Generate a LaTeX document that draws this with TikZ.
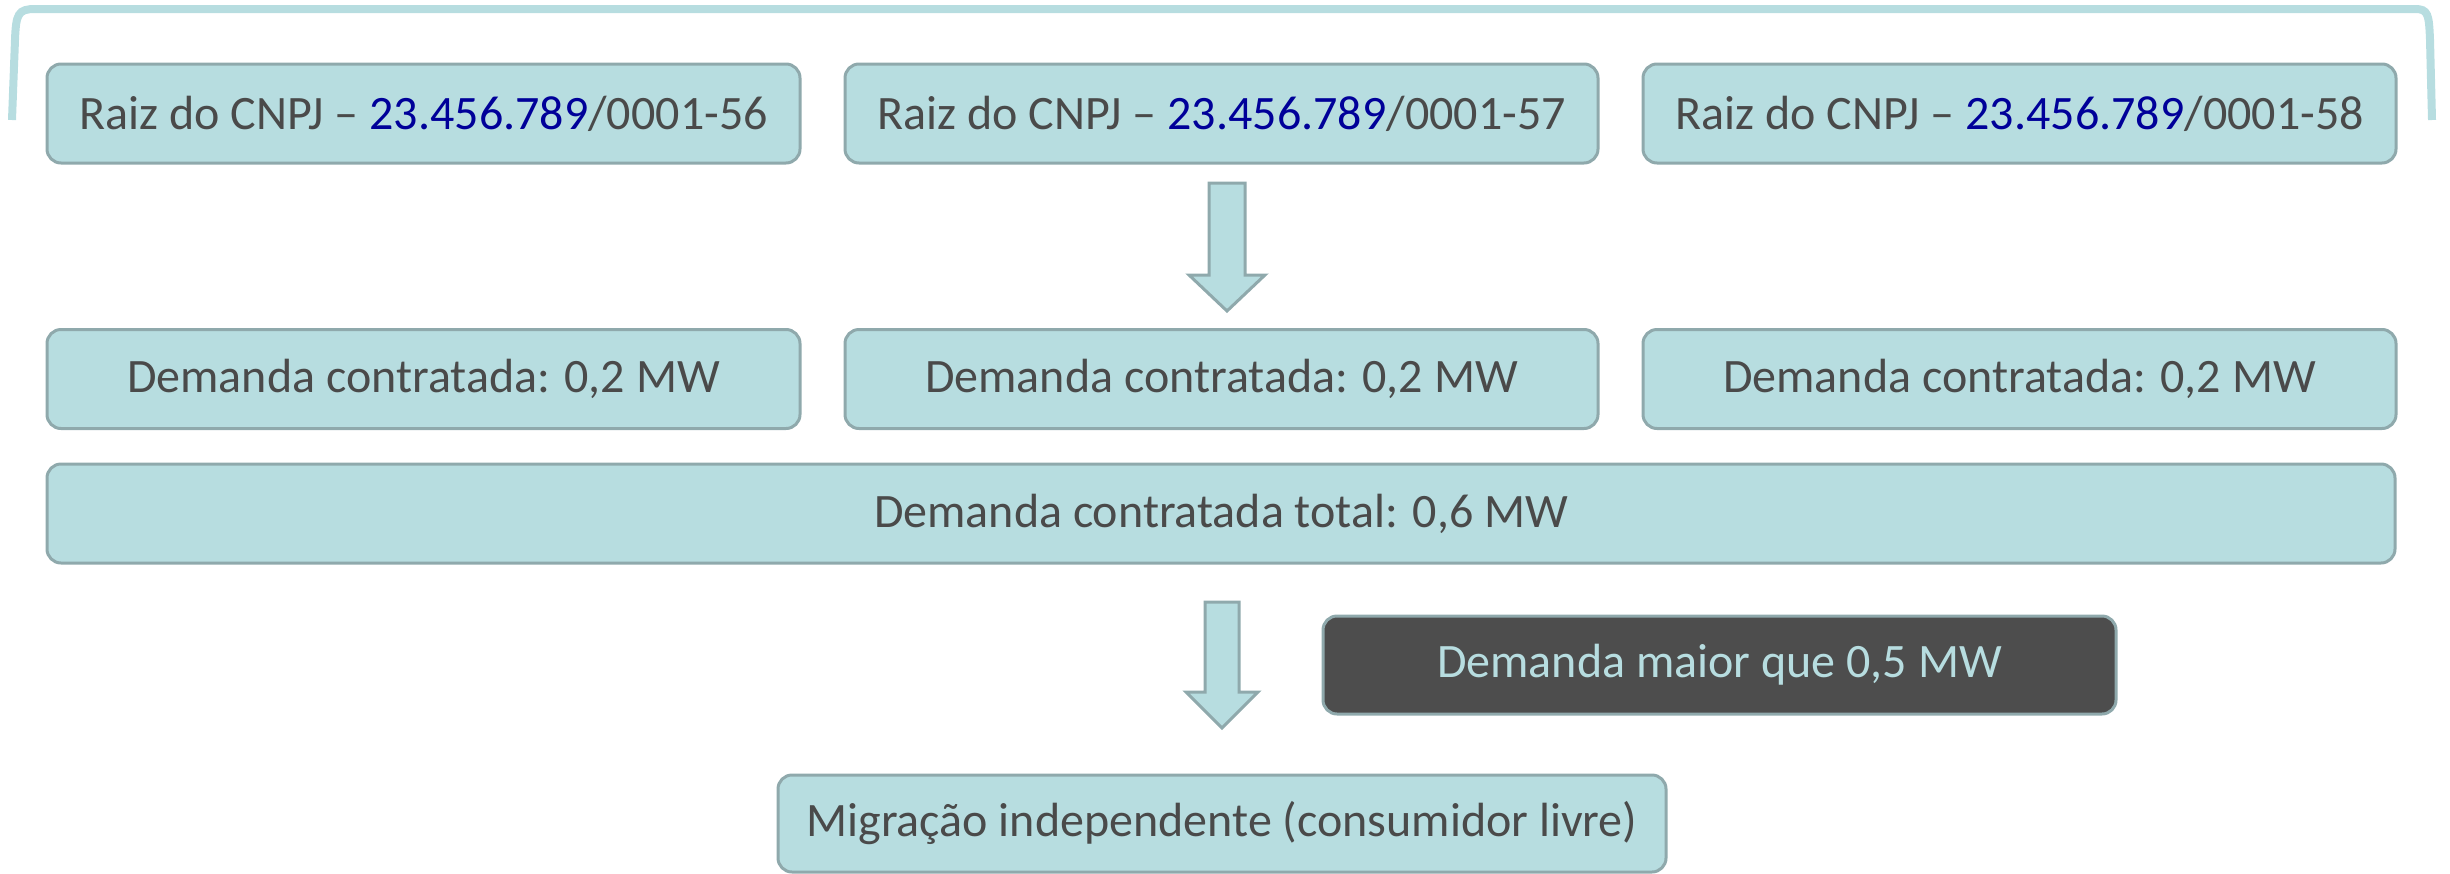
\documentclass[tikz,border=0pt]{standalone}
\usepackage{fontspec}
\setmainfont{Carlito}
\definecolor{tealfill}{HTML}{B7DDE0}
\definecolor{tealline}{HTML}{8FA9AC}
\definecolor{txt}{HTML}{4A4A4A}
\definecolor{navy}{HTML}{000099}
\definecolor{darkfill}{HTML}{4D4D4D}
\tikzset{
  box/.style={draw=tealline, line width=3pt, fill=tealfill, rounded corners=14pt,
    minimum width=753pt, minimum height=99pt, inner sep=0pt, text=txt,
    font=\fontsize{48}{58}\selectfont},
  darkbox/.style={box, fill=darkfill, text=tealfill},
  barrow/.style={draw=tealline, line width=3pt, fill=tealfill, line join=miter},
  bracket/.style={draw=tealfill, line width=8pt}
}
\newcommand{\cnpj}[1]{Raiz do CNPJ -- \textcolor{navy}{23.456.789}/0001-#1}
\begin{document}
\begin{tikzpicture}[x=1pt,y=-1pt]
\useasboundingbox (0,0) rectangle (2450,873);
% top bracket
\draw[bracket] (12,120) -- (15,40) .. controls (16,14) and (18,9) .. (35,9) -- (2415,9) .. controls (2428,9) and (2429,14) .. (2430,40) -- (2432,120);
% row 1
\node[box] (r1a) at (423.5,113.5) {\cnpj{56}};
\node[box] (r1b) at (1221.5,113.5) {\cnpj{57}};
\node[box] (r1c) at (2019.5,113.5) {\cnpj{58}};
% arrow 1
\draw[barrow, shift={(1227,183)}] (-18,0) -- (18,0) -- (18,92) -- (38,92) -- (0,128) -- (-38,92) -- (-18,92) -- cycle;
% row 2
\node[box] (r2a) at (423.5,379) {Demanda contratada: 0,2 MW};
\node[box] (r2b) at (1221.5,379) {Demanda contratada: 0,2 MW};
\node[box] (r2c) at (2019.5,379) {Demanda contratada: 0,2 MW};
% total
\node[box, minimum width=2348pt] (tot) at (1221,513.5) {Demanda contratada total: 0,6 MW};
% arrow 2
\draw[barrow, shift={(1222,602)}] (-17,0) -- (17,0) -- (17,90) -- (36,90) -- (0,126) -- (-36,90) -- (-17,90) -- cycle;
% dark box
\node[darkbox, minimum width=793pt, minimum height=98pt] (cond) at (1719.5,665) {Demanda maior que 0,5 MW};
% final
\node[box, minimum width=888pt, minimum height=97pt] (fin) at (1222,823.5) {Migração independente (consumidor livre)};
\end{tikzpicture}
\end{document}
